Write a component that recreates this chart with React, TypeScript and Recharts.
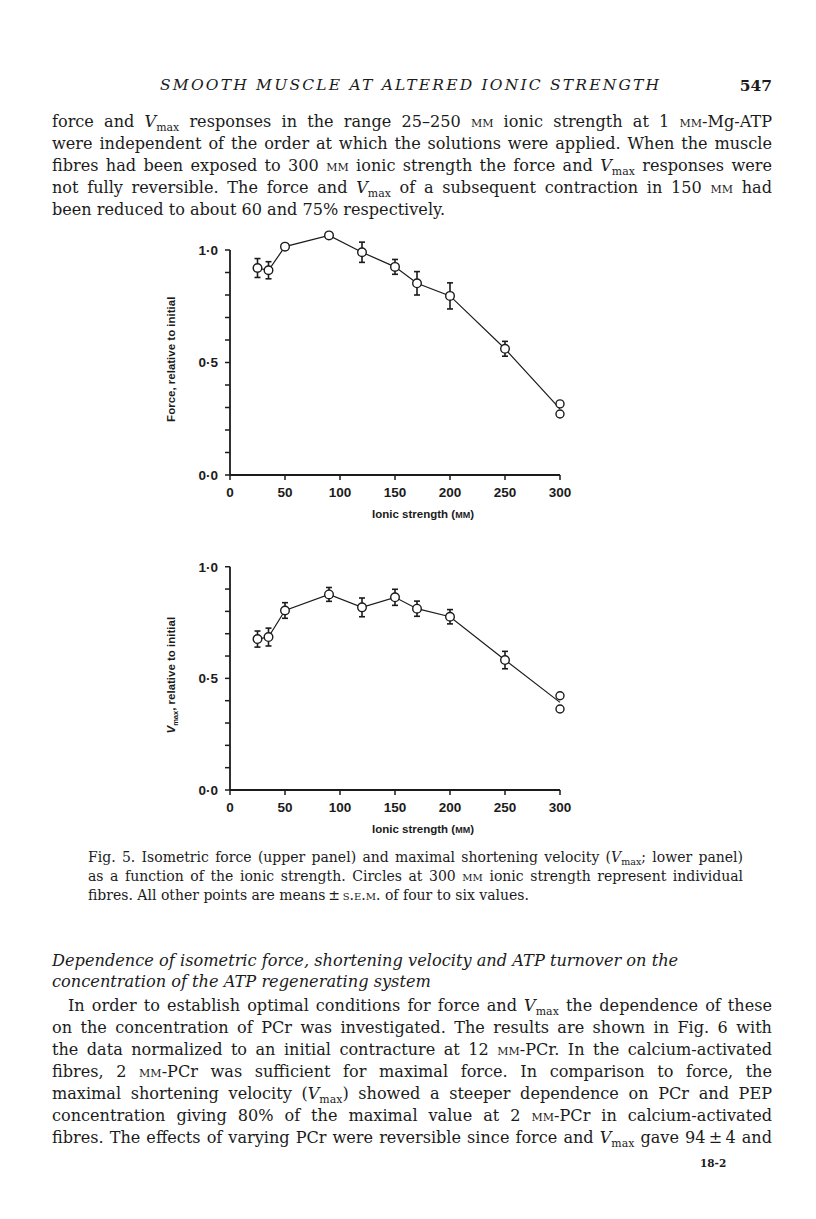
import React from "react";
import { ComposedChart, Line, Scatter, XAxis, YAxis, ErrorBar, ReferenceLine } from "recharts";

// Ionic strength (mM) of the mean points
const STRENGTH = [25, 35, 50, 90, 120, 150, 170, 200, 250];
// upper panel: force relative to initial, means and s.e.m.
const FORCE = [0.92, 0.91, 1.015, 1.065, 0.99, 0.925, 0.852, 0.796, 0.561];
const FORCE_ERR = [0.042, 0.038, 0, 0, 0.045, 0.033, 0.052, 0.058, 0.033];
// lower panel: Vmax relative to initial
const VMAX = [0.676, 0.685, 0.804, 0.876, 0.818, 0.863, 0.812, 0.776, 0.582];
const VMAX_ERR = [0.036, 0.04, 0.035, 0.031, 0.042, 0.036, 0.034, 0.032, 0.039];
// individual fibres at 300 mM
const FIBRE_STRENGTH = 300;
const FORCE_FIBRES = [0.316, 0.271];
const VMAX_FIBRES = [0.422, 0.363];

const X_TICKS = [0, 50, 100, 150, 200, 250, 300];
const Y_TICKS = [0, 0.1, 0.2, 0.3, 0.4, 0.5, 0.6, 0.7, 0.8, 0.9, 1.0];
const Y_LABELS: Record<string, string> = { "0": "0·0", "0.5": "0·5", "1": "1·0" };

const INK = "#1b1b1b";
const SERIF = '"DejaVu Serif", serif';
const SANS = '"Liberation Sans", Arial, sans-serif';

const mean = (a: number[]) => a.reduce((s, v) => s + v, 0) / a.length;

function buildLine(values: number[], errs: number[], fibres: number[]) {
  const rows = STRENGTH.map((s, i) => ({ strength: s, value: values[i], err: errs[i] }));
  // the curve runs to the mean of the two single fibres
  rows.push({ strength: FIBRE_STRENGTH, value: mean(fibres), err: 0 });
  return rows;
}

const XTitle = (props: any) => {
  const vb = props.viewBox || { x: 80, y: 275, width: 330, height: 45 };
  return (
    <text x={vb.x + vb.width * 0.585} y={vb.y + 43} textAnchor="middle" fill={INK}
      style={{ fontFamily: SANS, fontWeight: 700, fontSize: 11.5 }}>
      Ionic strength (<tspan fontSize={9}>MM</tspan>)
    </text>
  );
};

const YTitle = (props: any) => {
  const vb = props.viewBox || { x: 20, y: 28, width: 60, height: 247 };
  const x = vb.x + 5;
  const y = vb.y + vb.height / 2 + 8;
  return (
    <text x={x} y={y} transform={`rotate(-90 ${x} ${y})`} textAnchor="middle" fill={INK}
      style={{ fontFamily: SANS, fontWeight: 700, fontSize: 11.5 }}>
      {props.vmax ? (
        <>
          <tspan fontStyle="italic">V</tspan>
          <tspan fontSize={7.5} dy={3}>max</tspan>
          <tspan dy={-3}>, relative to initial</tspan>
        </>
      ) : (
        "Force, relative to initial"
      )}
    </text>
  );
};

const dot = (p: any) =>
  p.payload.strength === FIBRE_STRENGTH ? (
    <g key={`d${p.index}`} />
  ) : (
    <circle key={`d${p.index}`} cx={p.cx} cy={p.cy} r={4.3} fill="#fff" stroke={INK} strokeWidth={1.4} />
  );

const fibreShape = (p: any) => (
  <circle cx={p.cx} cy={p.cy} r={4} fill="#fff" stroke={INK} strokeWidth={1.4} />
);

function Panel({ top, marginTop, values, errs, fibres, vmax }: any) {
  const lineData = buildLine(values, errs, fibres);
  const fibreData = fibres.map((v: number) => ({ strength: FIBRE_STRENGTH, value: v }));
  return (
    <div style={{ position: "absolute", left: 150, top }}>
      <ComposedChart width={460} height={340} margin={{ top: marginTop, right: 50, bottom: 20, left: 20 }}>
        <XAxis dataKey="strength" type="number" domain={[0, 300]} ticks={X_TICKS} interval={0}
          height={45} tickSize={5} tickMargin={7}
          axisLine={{ stroke: INK, strokeWidth: 2 }} tickLine={{ stroke: INK, strokeWidth: 1.5 }}
          tick={{ fill: INK, fontSize: 13.5, fontWeight: 700, fontFamily: SANS }}
          label={<XTitle />} />
        <YAxis type="number" domain={[0, 1.1]} ticks={Y_TICKS} interval={0} width={60}
          tickSize={5} tickMargin={7} axisLine={false}
          tickLine={{ stroke: INK, strokeWidth: 1.5 }}
          tickFormatter={(v: number) => Y_LABELS[String(v)] || ""}
          tick={{ fill: INK, fontSize: 13.5, fontWeight: 700, fontFamily: SANS }}
          label={<YTitle vmax={vmax} />} />
        <ReferenceLine segment={[{ x: 0, y: 0 }, { x: 0, y: 1 }]} stroke={INK} strokeWidth={1.8} />
        <Line data={lineData} dataKey="value" type="linear" stroke={INK} strokeWidth={1.2}
          dot={dot} activeDot={false} isAnimationActive={false}>
          <ErrorBar dataKey="err" width={3} stroke={INK} strokeWidth={1.6} direction="y" />
        </Line>
        <Scatter data={fibreData} dataKey="value" shape={fibreShape} isAnimationActive={false} />
      </ComposedChart>
    </div>
  );
}

const Vmax = () => (
  <span>
    <i>V</i>
    <span style={{ fontSize: "0.68em", position: "relative", top: "0.32em" }}>max</span>
  </span>
);
const MM = () => <span style={{ fontVariant: "small-caps" }}>mm</span>;

const Ln = ({ y, left = 52, width = 720, size = 16.1, lh = 22, last = "justify", italic, children }: any) => (
  <div
    style={{
      position: "absolute", left, width, top: y - lh / 2, height: lh, lineHeight: `${lh}px`,
      fontSize: size, fontFamily: SERIF, textAlign: "justify", textAlignLast: last,
      fontStyle: italic ? "italic" : "normal", color: INK, overflow: "visible",
    }}
  >
    {children}
  </div>
);

export default function App() {
  return (
    <div style={{ position: "absolute", left: 0, top: 0, width: 816, height: 1219, background: "#fff", overflow: "hidden" }}>
      <div style={{ position: "absolute", left: 52, width: 720, top: 76, fontFamily: SERIF, fontSize: 15.5, color: INK }}>
        <span style={{ position: "absolute", left: 108, fontStyle: "italic", letterSpacing: 2.2, whiteSpace: "nowrap" }}>
          SMOOTH MUSCLE AT ALTERED IONIC STRENGTH
        </span>
        <span style={{ position: "absolute", right: 0, fontWeight: 700 }}>547</span>
      </div>

      <Ln y={122}>force and <Vmax /> responses in the range 25–250 <MM /> ionic strength at 1 <MM />-Mg-ATP</Ln>
      <Ln y={144}>were independent of the order at which the solutions were applied. When the muscle</Ln>
      <Ln y={166}>fibres had been exposed to 300 <MM /> ionic strength the force and <Vmax /> responses were</Ln>
      <Ln y={188}>not fully reversible. The force and <Vmax /> of a subsequent contraction in 150 <MM /> had</Ln>
      <Ln y={210} last="left">been reduced to about 60 and 75% respectively.</Ln>

      <Panel top={200} marginTop={27.5} values={FORCE} errs={FORCE_ERR} fibres={FORCE_FIBRES} vmax={false} />
      <Panel top={515} marginTop={29.4} values={VMAX} errs={VMAX_ERR} fibres={VMAX_FIBRES} vmax={true} />

      <Ln y={857} left={88} width={655} size={14} lh={19}>Fig. 5. Isometric force (upper panel) and maximal shortening velocity (<Vmax />; lower panel)</Ln>
      <Ln y={876} left={88} width={655} size={14} lh={19}>as a function of the ionic strength. Circles at 300 <MM /> ionic strength represent individual</Ln>
      <Ln y={895} left={88} width={655} size={14} lh={19} last="left">fibres. All other points are means{"\u2009"}±{"\u2009"}<span style={{ fontVariant: "small-caps" }}>s.e.m.</span> of four to six values.</Ln>

      <Ln y={960} size={16.2} lh={21} last="left" italic>Dependence of isometric force, shortening velocity and ATP turnover on the</Ln>
      <Ln y={981} size={16.2} lh={21} last="left" italic>concentration of the ATP regenerating system</Ln>

      <Ln y={1006} left={68} width={704}>In order to establish optimal conditions for force and <Vmax /> the dependence of these</Ln>
      <Ln y={1028}>on the concentration of PCr was investigated. The results are shown in Fig. 6 with</Ln>
      <Ln y={1050}>the data normalized to an initial contracture at 12 <MM />-PCr. In the calcium-activated</Ln>
      <Ln y={1072}>fibres, 2 <MM />-PCr was sufficient for maximal force. In comparison to force, the</Ln>
      <Ln y={1094}>maximal shortening velocity (<Vmax />) showed a steeper dependence on PCr and PEP</Ln>
      <Ln y={1116}>concentration giving 80% of the maximal value at 2 <MM />-PCr in calcium-activated</Ln>
      <Ln y={1138}>fibres. The effects of varying PCr were reversible since force and <Vmax /> gave 94{"\u2009"}±{"\u2009"}4 and</Ln>

      <div style={{ position: "absolute", left: 700, top: 1157, fontFamily: SERIF, fontSize: 10.5, fontWeight: 700, color: INK }}>
        18-2
      </div>
    </div>
  );
}
